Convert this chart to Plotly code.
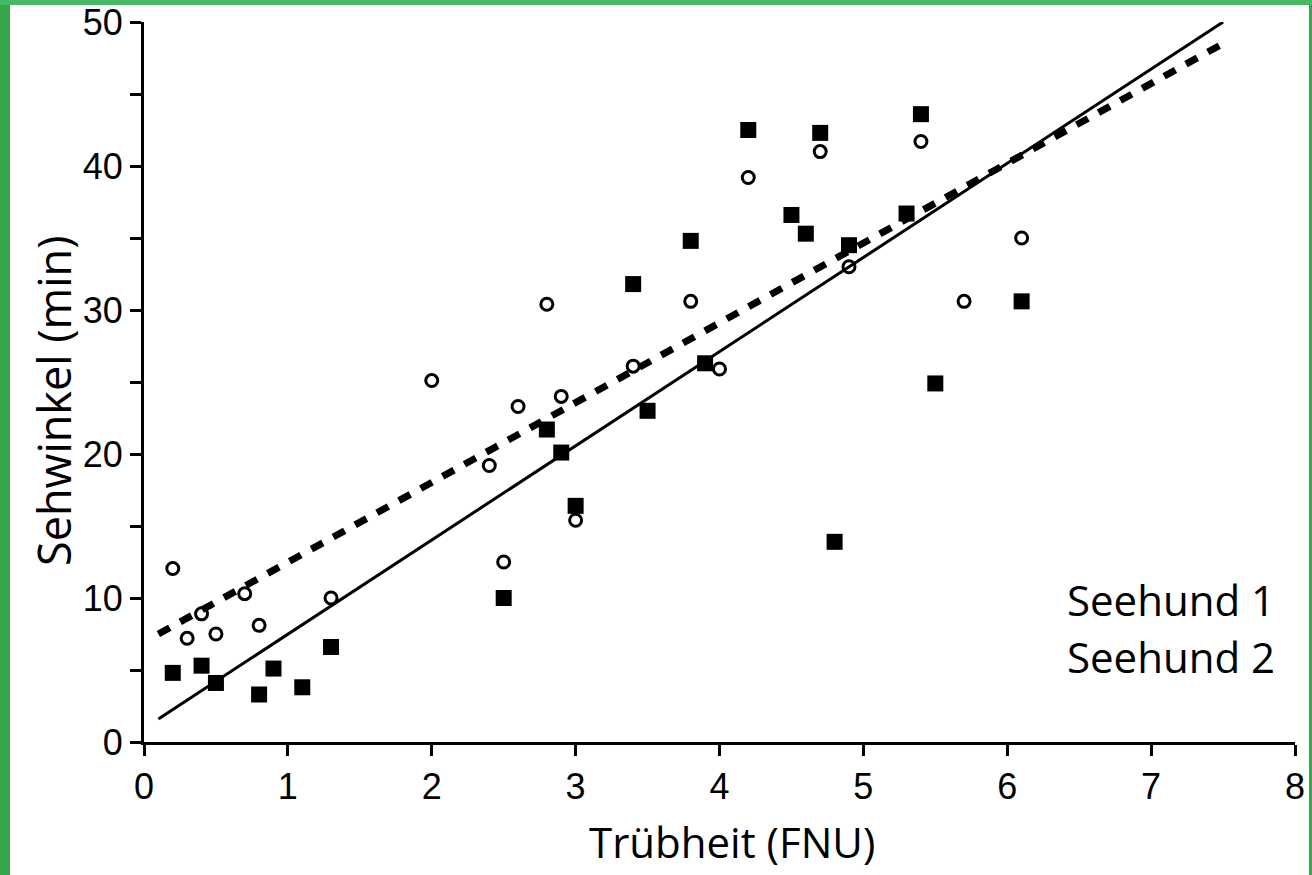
import plotly.graph_objects as go

# --- data ---
circle_x = [0.2, 0.3, 0.4, 0.5, 0.7, 0.8, 1.3, 2.0, 2.4, 2.5, 2.6, 2.8, 2.9, 3.0,
            3.4, 3.8, 4.0, 4.2, 4.7, 4.9, 5.4, 5.7, 6.1]
circle_y = [12.05, 7.2, 8.9, 7.5, 10.3, 8.1, 10.0, 25.1, 19.2, 12.5, 23.3, 30.4, 24.0, 15.4,
            26.1, 30.6, 25.9, 39.2, 41.0, 33.0, 41.7, 30.6, 35.0]

square_x = [0.2, 0.4, 0.5, 0.8, 0.9, 1.1, 1.3, 2.5, 2.8, 2.9, 3.0, 3.4, 3.5, 3.8, 3.9,
            4.2, 4.5, 4.6, 4.7, 4.8, 4.9, 5.3, 5.4, 5.5, 6.1]
square_y = [4.8, 5.3, 4.1, 3.3, 5.1, 3.8, 6.6, 10.0, 21.7, 20.1, 16.4, 31.8, 23.0, 34.8, 26.3,
            42.5, 36.6, 35.3, 42.3, 13.9, 34.5, 36.7, 43.6, 24.9, 30.6]

fit_x = [0.1, 7.5]
fit_solid_y = [1.6, 50.0]
fit_dashed_y = [7.5, 48.5]

x_ticks = [0, 1, 2, 3, 4, 5, 6, 7, 8]
y_ticks = [0, 5, 10, 15, 20, 25, 30, 35, 40, 45, 50]
y_tick_text = ["0", "", "10", "", "20", "", "30", "", "40", "", "50"]

series_names = ["Seehund 1", "Seehund 2"]
x_title = "Trübheit (FNU)"
y_title = "Sehwinkel (min)"

# --- layout constants ---
W, H = 1312, 875
ML, MR, MT, MB = 144, 17, 22, 133
PW, PH = W - ML - MR, H - MT - MB


def px_x(p):
    return (p - ML) / PW


def px_y(p):
    return (H - MB - p) / PH


fig = go.Figure()

fig.add_trace(go.Scatter(x=fit_x, y=fit_dashed_y, mode="lines",
                         line=dict(color="black", width=7, dash="13px,12px"),
                         showlegend=False, hoverinfo="skip"))
fig.add_trace(go.Scatter(x=fit_x, y=fit_solid_y, mode="lines",
                         line=dict(color="black", width=3),
                         showlegend=False, hoverinfo="skip"))
fig.add_trace(go.Scatter(x=circle_x, y=circle_y, mode="markers", name=series_names[0],
                         marker=dict(symbol="circle-open", size=12, color="black",
                                     line=dict(width=3, color="black")),
                         showlegend=False, cliponaxis=False))
fig.add_trace(go.Scatter(x=square_x, y=square_y, mode="markers", name=series_names[1],
                         marker=dict(symbol="square", size=16, color="black",
                                     line=dict(width=0)),
                         showlegend=False, cliponaxis=False))

title_font = dict(family="Open Sans", size=42, color="black")

annotations = [
    dict(text=x_title, x=px_x(731.5), y=px_y(841), xref="paper", yref="paper",
         xanchor="center", yanchor="middle", showarrow=False, font=title_font),
    dict(text=y_title, x=px_x(53), y=px_y(401), xref="paper", yref="paper",
         xanchor="center", yanchor="middle", showarrow=False, textangle=-90,
         font=dict(family="Open Sans", size=45, color="black")),
    dict(text=series_names[0], x=px_x(1277), y=px_y(599), xref="paper", yref="paper",
         xanchor="right", yanchor="middle", showarrow=False, font=title_font),
    dict(text=series_names[1], x=px_x(1277), y=px_y(656), xref="paper", yref="paper",
         xanchor="right", yanchor="middle", showarrow=False, font=title_font),
]

shapes = [
    dict(type="rect", xref="paper", yref="paper", layer="below",
         x0=px_x(10), x1=px_x(1309), y0=px_y(875), y1=px_y(5),
         fillcolor="white", line=dict(width=0)),
    dict(type="rect", xref="paper", yref="paper", layer="below",
         x0=px_x(0), x1=px_x(1312), y0=px_y(5), y1=px_y(0),
         fillcolor="#47b964", line=dict(width=0)),
]

tick_font = dict(family="Liberation Sans", size=36, color="black")

fig.update_layout(
    width=W, height=H,
    margin=dict(l=ML, r=MR, t=MT, b=MB, pad=0, autoexpand=False),
    paper_bgcolor="#35a64c",
    plot_bgcolor="rgba(0,0,0,0)",
    showlegend=False,
    annotations=annotations,
    shapes=shapes,
    xaxis=dict(range=[0, 8], tickvals=x_ticks, ticks="outside", ticklen=11, tickwidth=3,
               tickcolor="black", showline=True, linecolor="black", linewidth=3,
               showgrid=False, zeroline=False, tickfont=tick_font, automargin=False),
    yaxis=dict(range=[0, 50], tickvals=y_ticks, ticktext=y_tick_text, ticks="outside",
               ticklen=11, tickwidth=3, tickcolor="black", showline=True,
               linecolor="black", linewidth=3, showgrid=False, zeroline=False,
               tickfont=tick_font, automargin=False),
)

fig.write_html(
    "out.html",
    config={"displayModeBar": False},
    post_script="document.body.style.margin='0';document.body.style.overflow='hidden';",
)
